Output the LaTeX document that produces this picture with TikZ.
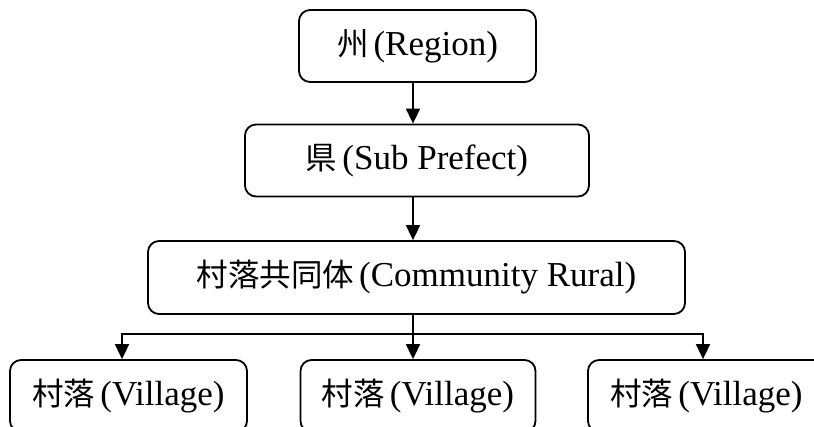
\documentclass[tikz,border=0pt]{standalone}
\usepackage{fontspec}
\setmainfont{Liberation Serif}
\newfontfamily\cjk[Scale=0.9]{Noto Sans CJK JP}
\usetikzlibrary{arrows.meta}
\newcommand{\lab}[2]{{\cjk #1}\hspace{5pt}(#2)}
\tikzset{
  box/.style={draw=black, line width=1.8pt, rounded corners=11pt, inner sep=0pt,
    minimum height=72pt, font=\fontsize{35pt}{38pt}\selectfont, fill=white},
  conn/.style={draw=black, line width=1.8pt},
  arr/.style={conn, -{Triangle[length=15pt,width=14pt]}},
}
\begin{document}
\begin{tikzpicture}[x=1pt,y=-1pt]
\clip (0,0) rectangle (814,427);
\fill[white] (0,0) rectangle (814,427);
\node[box, minimum width=237pt] (b1) at (417.5,46) {\lab{州}{Region}};
\node[box, minimum width=344pt] (b2) at (417,160.5) {\lab{県}{Sub Prefect}};
\node[box, minimum width=537pt, minimum height=73pt] (b3) at (416.5,277.5) {\lab{村落共同体}{Community Rural}};
\node[box, minimum width=237pt] (v1) at (128.5,396) {\lab{村落}{Village}};
\node[box, minimum width=235pt] (v2) at (418,396) {\lab{村落}{Village}};
\node[box, minimum width=237pt] (v3) at (706.5,396) {\lab{村落}{Village}};
\coordinate (stem) at (413,0);
\coordinate (lx) at (122,0);
\coordinate (rx) at (703,0);
\coordinate (bus) at (0,334);
\draw[arr] (b1.south -| stem) -- (b2.north -| stem);
\draw[arr] (b2.south -| stem) -- (b3.north -| stem);
\draw[conn] (b3.south -| stem) -- (stem |- bus);
\draw[arr] (stem |- bus) -- (v2.north -| stem);
\draw[arr] (stem |- bus) -| (v1.north -| lx);
\draw[arr] (stem |- bus) -| (v3.north -| rx);
\end{tikzpicture}
\end{document}
